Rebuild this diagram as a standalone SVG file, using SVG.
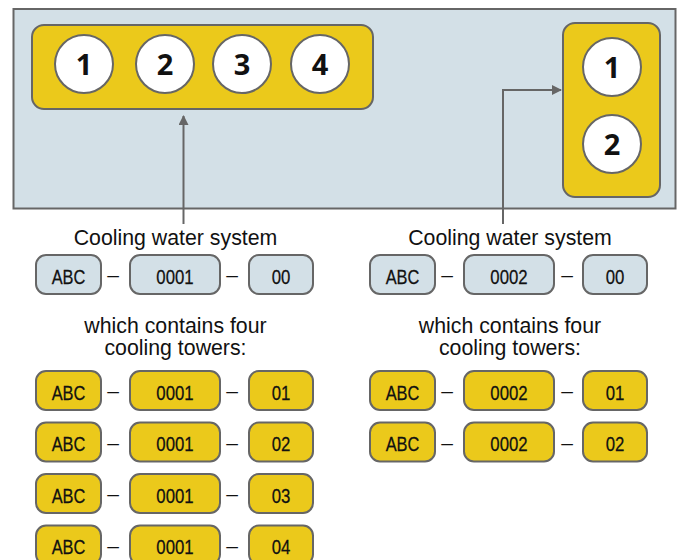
<svg xmlns="http://www.w3.org/2000/svg" width="680" height="560" viewBox="0 0 680 560">
<style>
.panel{fill:#d3e0e7;stroke:#666;stroke-width:2}
.ybox{fill:#ebc91b;stroke:#666;stroke-width:2}
.circ{fill:#fff;stroke:#666;stroke-width:2}
.num{font-family:"Noto Sans","Liberation Sans",sans-serif;font-weight:bold;font-size:29px;fill:#111;text-anchor:middle}
.lbl{font-family:"Liberation Sans",Arial,sans-serif;font-size:21.3px;fill:#111;text-anchor:middle}
.pb{fill:#d3e0e7;stroke:#666;stroke-width:2}
.py{fill:#ebc91b;stroke:#666;stroke-width:2}
.pt{font-family:"Liberation Sans",Arial,sans-serif;font-size:21px;fill:#111;text-anchor:middle;stroke:#111;stroke-width:0.25}
.dash{font-family:"Liberation Sans",Arial,sans-serif;font-size:21px;fill:#111;text-anchor:middle}
.conn{fill:none;stroke:#666;stroke-width:2}
</style>
<defs>
<marker id="ah" markerWidth="10" markerHeight="10" refX="9" refY="5" orient="auto" markerUnits="userSpaceOnUse">
<path d="M0,0 L10,5 L0,10 Z" fill="#666"/>
</marker>
</defs>
<g id="panel">
<rect class="panel" x="13.5" y="9" width="662" height="199.5"/>
</g>
<g id="group4">
<rect class="ybox" x="32" y="25" width="341" height="84" rx="12"/>
<circle class="circ" cx="84" cy="64" r="29"/>
<circle class="circ" cx="165" cy="64" r="29"/>
<circle class="circ" cx="242" cy="64" r="29"/>
<circle class="circ" cx="320" cy="64" r="29"/>
<text class="num" x="84" y="74.5">1</text>
<text class="num" x="165" y="74.5">2</text>
<text class="num" x="242" y="74.5">3</text>
<text class="num" x="320" y="74.5">4</text>
</g>
<g id="group2">
<rect class="ybox" x="563" y="23" width="97" height="174" rx="12"/>
<circle class="circ" cx="612" cy="67" r="29"/>
<circle class="circ" cx="612" cy="144" r="29"/>
<text class="num" x="612" y="77.5">1</text>
<text class="num" x="612" y="154.5">2</text>
</g>
<g id="connectors">
<path class="conn" d="M183.5,224 L183.5,116" marker-end="url(#ah)"/>
<path class="conn" d="M503,224 L503,90 L561,90" marker-end="url(#ah)"/>
</g>
<g id="labels">
<text class="lbl" x="175.5" y="245">Cooling water system</text>
<text class="lbl" x="510" y="245">Cooling water system</text>
<text class="lbl" x="175.5" y="333">which contains four</text>
<text class="lbl" x="175.5" y="355">cooling towers:</text>
<text class="lbl" x="510" y="333">which contains four</text>
<text class="lbl" x="510" y="355">cooling towers:</text>
</g>
<g id="sys1">
<rect class="pb" x="36" y="255" width="65" height="39" rx="10"/>
<rect class="pb" x="130" y="255" width="90" height="39" rx="10"/>
<rect class="pb" x="249" y="255" width="64" height="39" rx="10"/>
<text class="pt" transform="translate(68.5,283.5) scale(0.78,1)">ABC</text>
<text class="dash" x="113" y="282">–</text>
<text class="pt" transform="translate(175,283.5) scale(0.8,1)">0001</text>
<text class="dash" x="232" y="282">–</text>
<text class="pt" transform="translate(281,283.5) scale(0.8,1)">00</text>
</g>
<g id="sys2">
<rect class="pb" x="370" y="255" width="65" height="39" rx="10"/>
<rect class="pb" x="464" y="255" width="90" height="39" rx="10"/>
<rect class="pb" x="583" y="255" width="64" height="39" rx="10"/>
<text class="pt" transform="translate(402.5,283.5) scale(0.78,1)">ABC</text>
<text class="dash" x="447" y="282">–</text>
<text class="pt" transform="translate(509,283.5) scale(0.8,1)">0002</text>
<text class="dash" x="567" y="282">–</text>
<text class="pt" transform="translate(615,283.5) scale(0.8,1)">00</text>
</g>
<g id="tower1-01">
<rect class="py" x="36" y="371" width="65" height="39" rx="10"/>
<rect class="py" x="130" y="371" width="90" height="39" rx="10"/>
<rect class="py" x="249" y="371" width="64" height="39" rx="10"/>
<text class="pt" transform="translate(68.5,399.5) scale(0.78,1)">ABC</text>
<text class="dash" x="113" y="398">–</text>
<text class="pt" transform="translate(175,399.5) scale(0.8,1)">0001</text>
<text class="dash" x="232" y="398">–</text>
<text class="pt" transform="translate(281,399.5) scale(0.8,1)">01</text>
</g>
<g id="tower1-02">
<rect class="py" x="36" y="422.5" width="65" height="39" rx="10"/>
<rect class="py" x="130" y="422.5" width="90" height="39" rx="10"/>
<rect class="py" x="249" y="422.5" width="64" height="39" rx="10"/>
<text class="pt" transform="translate(68.5,451) scale(0.78,1)">ABC</text>
<text class="dash" x="113" y="449.5">–</text>
<text class="pt" transform="translate(175,451) scale(0.8,1)">0001</text>
<text class="dash" x="232" y="449.5">–</text>
<text class="pt" transform="translate(281,451) scale(0.8,1)">02</text>
</g>
<g id="tower1-03">
<rect class="py" x="36" y="474" width="65" height="39" rx="10"/>
<rect class="py" x="130" y="474" width="90" height="39" rx="10"/>
<rect class="py" x="249" y="474" width="64" height="39" rx="10"/>
<text class="pt" transform="translate(68.5,502.5) scale(0.78,1)">ABC</text>
<text class="dash" x="113" y="501">–</text>
<text class="pt" transform="translate(175,502.5) scale(0.8,1)">0001</text>
<text class="dash" x="232" y="501">–</text>
<text class="pt" transform="translate(281,502.5) scale(0.8,1)">03</text>
</g>
<g id="tower1-04">
<rect class="py" x="36" y="525.5" width="65" height="39" rx="10"/>
<rect class="py" x="130" y="525.5" width="90" height="39" rx="10"/>
<rect class="py" x="249" y="525.5" width="64" height="39" rx="10"/>
<text class="pt" transform="translate(68.5,554) scale(0.78,1)">ABC</text>
<text class="dash" x="113" y="552.5">–</text>
<text class="pt" transform="translate(175,554) scale(0.8,1)">0001</text>
<text class="dash" x="232" y="552.5">–</text>
<text class="pt" transform="translate(281,554) scale(0.8,1)">04</text>
</g>
<g id="tower2-01">
<rect class="py" x="370" y="371" width="65" height="39" rx="10"/>
<rect class="py" x="464" y="371" width="90" height="39" rx="10"/>
<rect class="py" x="583" y="371" width="64" height="39" rx="10"/>
<text class="pt" transform="translate(402.5,399.5) scale(0.78,1)">ABC</text>
<text class="dash" x="447" y="398">–</text>
<text class="pt" transform="translate(509,399.5) scale(0.8,1)">0002</text>
<text class="dash" x="567" y="398">–</text>
<text class="pt" transform="translate(615,399.5) scale(0.8,1)">01</text>
</g>
<g id="tower2-02">
<rect class="py" x="370" y="422.5" width="65" height="39" rx="10"/>
<rect class="py" x="464" y="422.5" width="90" height="39" rx="10"/>
<rect class="py" x="583" y="422.5" width="64" height="39" rx="10"/>
<text class="pt" transform="translate(402.5,451) scale(0.78,1)">ABC</text>
<text class="dash" x="447" y="449.5">–</text>
<text class="pt" transform="translate(509,451) scale(0.8,1)">0002</text>
<text class="dash" x="567" y="449.5">–</text>
<text class="pt" transform="translate(615,451) scale(0.8,1)">02</text>
</g>
</svg>
